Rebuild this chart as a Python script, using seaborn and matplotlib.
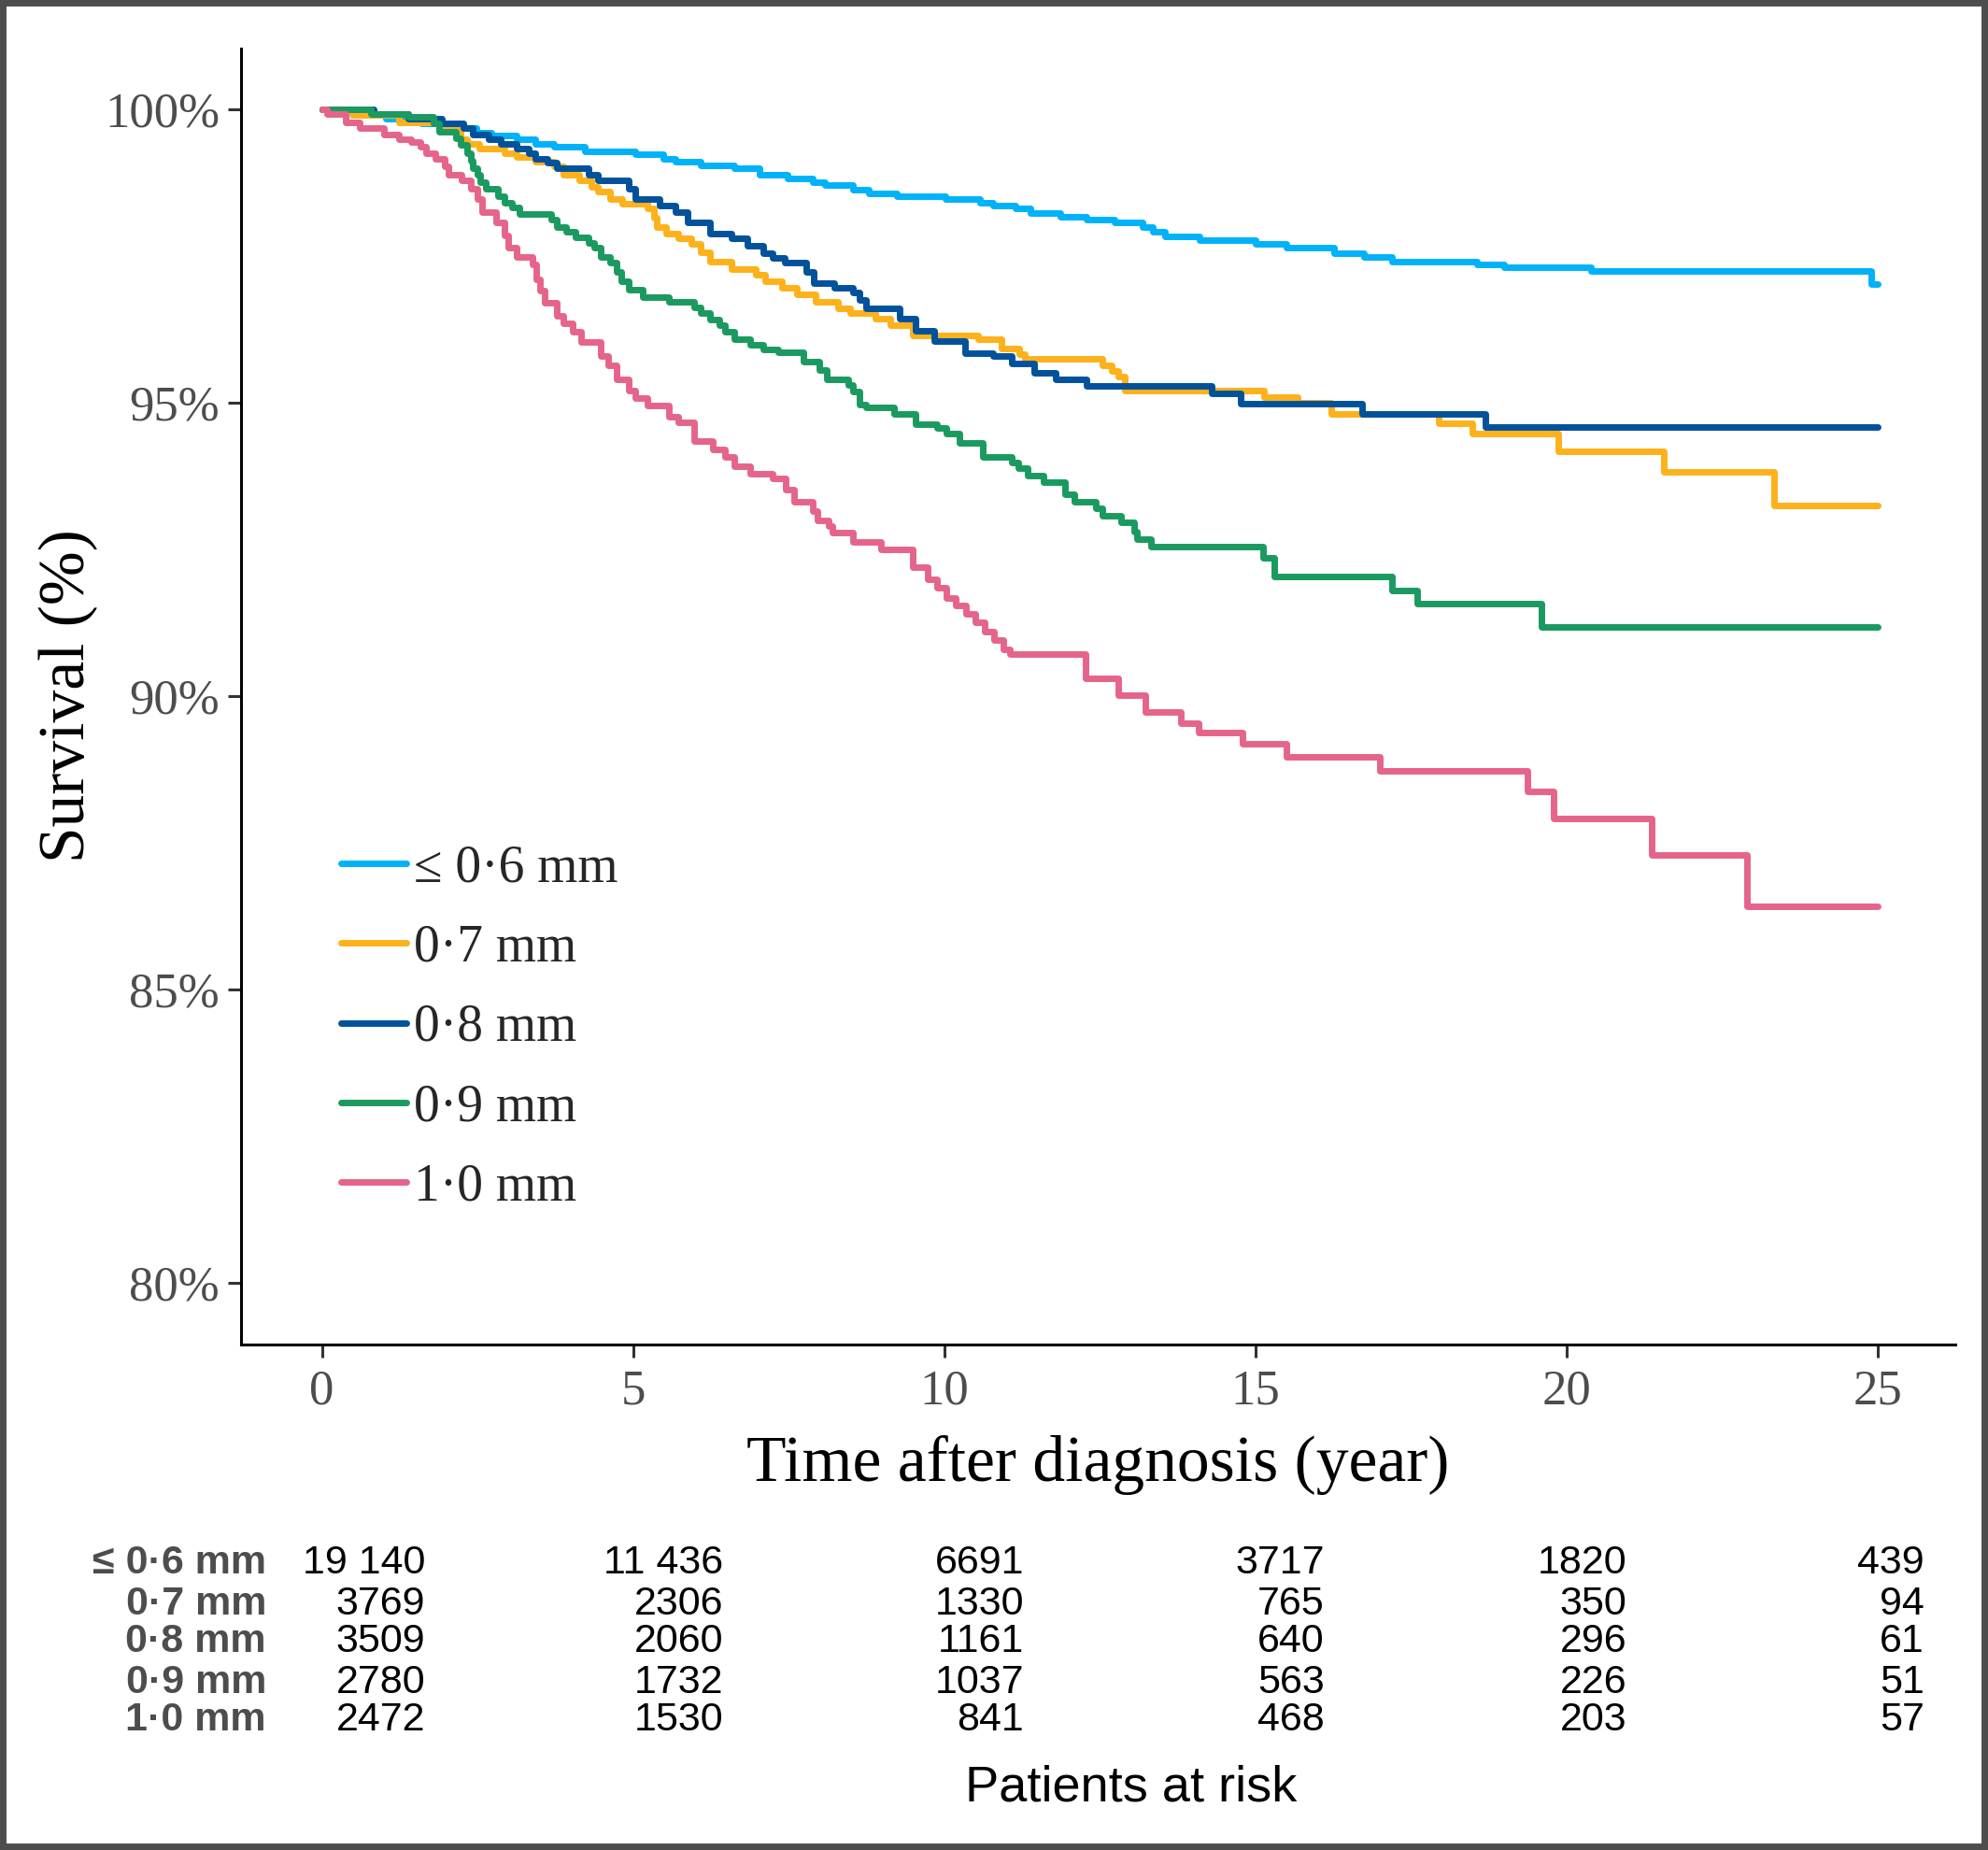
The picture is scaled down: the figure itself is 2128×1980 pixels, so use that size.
import numpy as np
import pandas as pd
import seaborn as sns
import matplotlib.pyplot as plt
from matplotlib.patches import Rectangle

# Canvas (pixels) and layout
W, H = 2128, 1980
DPI = 100
SERIF = ["Liberation Serif", "DejaVu Serif"]
SANS = ["Liberation Sans", "DejaVu Sans"]

# Groups and colours
groups = ["≤ 0·6 mm", "0·7 mm", "0·8 mm", "0·9 mm", "1·0 mm"]
colors = ["#00B2F7", "#FDB11B", "#01529B", "#1B9A60", "#E5658A"]

# Kaplan-Meier steps (time in years, survival in %)
t_06 = [0, 0.5, 1.03, 1.6, 2.0, 2.48, 2.73, 3.13, 3.43, 3.73, 4.23, 5.03, 5.48, 5.68,
        6.08, 6.63, 7.04, 7.49, 7.89, 8.09, 8.54, 8.79, 9.24, 10.02, 10.57, 10.79,
        11.14, 11.39, 11.87, 12.29, 12.74, 13.19, 13.35, 13.55, 14.1, 15.0, 15.5,
        16.27, 16.75, 17.2, 18.57, 19.0, 20.4, 24.9, 25.0]
s_06 = [100, 99.92, 99.84, 99.76, 99.68, 99.6, 99.55, 99.49, 99.41, 99.36, 99.28, 99.23,
        99.15, 99.1, 99.04, 98.99, 98.88, 98.81, 98.75, 98.7, 98.62, 98.57, 98.51, 98.46,
        98.41, 98.36, 98.3, 98.23, 98.17, 98.12, 98.07, 97.99, 97.91, 97.83, 97.77, 97.7,
        97.64, 97.54, 97.48, 97.4, 97.36, 97.3, 97.24, 97.02, 97.02]

t_07 = [0, 0.48, 1.23, 1.93, 2.23, 2.33, 2.53, 2.93, 3.13, 3.43, 3.73, 3.88, 4.13, 4.33,
        4.43, 4.63, 4.83, 5.23, 5.33, 5.38, 5.53, 5.73, 5.93, 6.08, 6.23, 6.58, 6.98, 7.13,
        7.39, 7.64, 7.94, 8.29, 8.49, 8.89, 9.14, 9.49, 10.54, 10.92, 11.2, 11.3, 12.55,
        12.7, 12.8, 12.9, 15.14, 15.68, 16.22, 17.95, 18.49, 19.87, 21.57, 23.33, 25.0]
s_07 = [100, 99.9, 99.78, 99.65, 99.49, 99.41, 99.33, 99.25, 99.18, 99.1, 99.02, 98.88,
        98.78, 98.68, 98.59, 98.46, 98.38, 98.3, 98.15, 97.99, 97.88, 97.8, 97.7, 97.56,
        97.4, 97.27, 97.17, 97.06, 96.96, 96.85, 96.72, 96.61, 96.53, 96.43, 96.32, 96.15,
        96.08, 95.92, 95.82, 95.74, 95.63, 95.54, 95.44, 95.21, 95.1, 94.99, 94.81, 94.65,
        94.47, 94.17, 93.82, 93.24, 93.24]

t_08 = [0, 0.83, 1.38, 1.93, 2.28, 2.43, 2.68, 2.88, 3.13, 3.33, 3.43, 3.63, 3.78, 4.28,
        4.43, 4.93, 5.03, 5.43, 5.68, 5.88, 6.23, 6.58, 6.83, 7.09, 7.24, 7.44, 7.79, 7.91,
        8.24, 8.54, 8.64, 8.74, 9.29, 9.54, 9.84, 10.34, 10.79, 11.09, 11.44, 11.79, 12.29,
        14.3, 14.76, 16.72, 18.7, 25.0]
s_08 = [100, 99.92, 99.84, 99.76, 99.67, 99.57, 99.49, 99.41, 99.33, 99.25, 99.15, 99.08,
        98.99, 98.88, 98.78, 98.65, 98.46, 98.36, 98.25, 98.07, 97.88, 97.8, 97.67, 97.54,
        97.47, 97.38, 97.22, 97.03, 96.95, 96.88, 96.75, 96.6, 96.43, 96.22, 96.04, 95.84,
        95.79, 95.67, 95.5, 95.4, 95.28, 95.15, 94.98, 94.81, 94.59, 94.59]

t_09 = [0, 0.78, 1.38, 1.8, 1.88, 2.15, 2.23, 2.33, 2.4, 2.43, 2.5, 2.55, 2.63, 2.83, 2.93,
        3.05, 3.18, 3.68, 3.78, 3.93, 4.08, 4.28, 4.38, 4.48, 4.63, 4.73, 4.81, 4.93, 5.16,
        5.58, 5.98, 6.08, 6.23, 6.38, 6.48, 6.63, 6.88, 7.09, 7.34, 7.74, 7.99, 8.11, 8.46,
        8.54, 8.64, 8.74, 9.19, 9.54, 9.89, 10.04, 10.24, 10.62, 11.09, 11.19, 11.34, 11.59,
        11.94, 12.09, 12.44, 12.54, 12.84, 13.05, 13.1, 13.32, 15.13, 15.3, 17.19, 17.6,
        19.6, 25.0]
s_09 = [100, 99.92, 99.87, 99.75, 99.62, 99.5, 99.39, 99.25, 99.12, 99.0, 98.88, 98.75,
        98.65, 98.52, 98.41, 98.33, 98.22, 98.12, 97.99, 97.91, 97.81, 97.72, 97.64, 97.48,
        97.38, 97.22, 97.06, 96.93, 96.8, 96.72, 96.62, 96.53, 96.42, 96.32, 96.21, 96.08,
        95.98, 95.9, 95.85, 95.69, 95.55, 95.4, 95.3, 95.18, 94.97, 94.92, 94.81, 94.63,
        94.56, 94.47, 94.31, 94.07, 93.97, 93.89, 93.76, 93.65, 93.44, 93.31, 93.2, 93.07,
        92.96, 92.8, 92.67, 92.54, 92.36, 92.04, 91.8, 91.57, 91.17, 91.17]

t_10 = [0, 0.08, 0.38, 0.6, 1.0, 1.23, 1.43, 1.58, 1.68, 1.83, 1.98, 2.03, 2.25, 2.4, 2.5,
        2.58, 2.8, 2.93, 3.0, 3.13, 3.38, 3.45, 3.5, 3.58, 3.78, 3.88, 4.03, 4.16, 4.48, 4.6,
        4.73, 4.93, 5.03, 5.23, 5.58, 5.73, 5.98, 6.28, 6.48, 6.63, 6.88, 7.24, 7.46, 7.59,
        7.89, 7.96, 8.14, 8.21, 8.54, 8.99, 9.49, 9.5, 9.74, 9.89, 10.04, 10.19, 10.35,
        10.5, 10.65, 10.8, 10.95, 11.05, 12.27, 12.8, 13.24, 13.8, 14.09, 14.8, 15.5, 17.0,
        19.37, 19.8, 21.37, 22.9, 25.0]
s_10 = [100, 99.92, 99.78, 99.68, 99.56, 99.49, 99.44, 99.36, 99.25, 99.15, 99.02, 98.88,
        98.78, 98.65, 98.46, 98.25, 98.07, 97.85, 97.64, 97.48, 97.35, 97.1, 96.9, 96.7,
        96.48, 96.35, 96.21, 96.03, 95.8, 95.63, 95.39, 95.2, 95.08, 94.95, 94.76, 94.66,
        94.34, 94.2, 94.07, 93.92, 93.78, 93.7, 93.52, 93.31, 93.15, 92.99, 92.9, 92.78,
        92.62, 92.49, 92.35, 92.2, 91.98, 91.85, 91.67, 91.55, 91.4, 91.25, 91.1, 90.95,
        90.8, 90.71, 90.3, 90.02, 89.72, 89.53, 89.37, 89.19, 88.96, 88.72, 88.37, 87.91,
        87.29, 86.42, 86.42]

# Patients at risk table
risk_times = [0, 5, 10, 15, 20, 25]
risk_06 = [19140, 11436, 6691, 3717, 1820, 439]
risk_07 = [3769, 2306, 1330, 765, 350, 94]
risk_08 = [3509, 2060, 1161, 640, 296, 61]
risk_09 = [2780, 1732, 1037, 563, 226, 51]
risk_10 = [2472, 1530, 841, 468, 203, 57]

curves = [(t_06, s_06), (t_07, s_07), (t_08, s_08), (t_09, s_09), (t_10, s_10)]
risk_rows = [risk_06, risk_07, risk_08, risk_09, risk_10]

frames = []
for g, (t, s) in zip(groups, curves):
    frames.append(pd.DataFrame({"time": t, "surv": s, "group": g}))
df = pd.concat(frames, ignore_index=True)


def px_x(x):
    return x / W


def px_y(y):
    return 1 - y / H


def fmt_risk(n):
    # thousands separated by a space for five-digit numbers
    if n >= 10000:
        return f"{n:,}".replace(",", " ")
    return str(n)


sns.set_style("ticks")
plt.rcParams["font.family"] = SERIF

LW = 5.0

fig = plt.figure(figsize=(W / DPI, H / DPI), dpi=DPI)
ax = fig.add_axes([px_x(258), px_y(1439), (2093 - 258) / W, (1439 - 52) / H])

sns.lineplot(
    data=df, x="time", y="surv", hue="group", hue_order=groups,
    palette=dict(zip(groups, colors)), estimator=None, sort=False,
    drawstyle="steps-post", linewidth=LW, ax=ax,
)

ax.set_xlim(-1.3, 26.25)
ax.set_ylim(78.95, 101.03)
ax.set_xticks(risk_times)
ax.set_yticks([80, 85, 90, 95, 100])
ax.set_yticklabels([f"{v}%" for v in [80, 85, 90, 95, 100]])

sns.despine(ax=ax)
for side in ["left", "bottom"]:
    ax.spines[side].set_linewidth(2.2)
    ax.spines[side].set_color("black")
ax.tick_params(axis="both", length=10, width=2.2, color="#333333",
               labelcolor="#4D4D4D", labelsize=38)
ax.tick_params(axis="x", pad=9)
ax.tick_params(axis="y", pad=6.5)
for lab in ax.get_xticklabels() + ax.get_yticklabels():
    lab.set_family(SERIF)

ax.set_xlabel("Time after diagnosis (year)", fontsize=50, color="black")
ax.set_ylabel("Survival (%)", fontsize=50, color="black")
ax.xaxis.label.set_va("baseline")
ax.xaxis.set_label_coords(0.5, (1439 - 1585) / (1439 - 52))
ax.yaxis.label.set_rotation_mode("anchor")
ax.yaxis.label.set_va("baseline")
ax.yaxis.label.set_ha("center")
ax.yaxis.set_label_coords((90 - 258) / (2093 - 258), (1439 - 745) / (1439 - 52))

# legend inside the plot, no frame, no title
old = ax.get_legend()
handles = old.legend_handles
labels = [t.get_text() for t in old.get_texts()]
for h in handles:
    h.set_linewidth(LW)
ax.legend(handles, labels, loc="center left",
          bbox_to_anchor=((365 - 258) / (2093 - 258), (1439 - 1100) / (1439 - 52)),
          frameon=False, handlelength=1.26, handletextpad=0.15,
          labelspacing=0.6, borderpad=0, borderaxespad=0,
          prop={"family": SERIF, "size": 40})

# patients at risk table
row_base = [1684, 1728, 1768, 1812, 1852]
col_right = [455, 774, 1096, 1418, 1741, 2060]
for g, row, yb in zip(groups, risk_rows, row_base):
    fig.text(px_x(285), px_y(yb), g, ha="right", va="baseline", fontsize=31,
             fontweight="bold", color="#4D4D4D", family=SANS)
    for n, xr in zip(row, col_right):
        fig.text(px_x(xr), px_y(yb), fmt_risk(n), ha="right", va="baseline",
                 fontsize=31, color="black", family=SANS)
fig.text(px_x(1211), px_y(1928), "Patients at risk", ha="center", va="baseline",
         fontsize=39, color="black", family=SANS)

# dark frame round the whole picture
fig.add_artist(Rectangle((0, 0), 1, 1, transform=fig.transFigure, fill=False,
                         edgecolor="#4D4D4D", linewidth=10))

fig.savefig("out.png", dpi=DPI, facecolor="white")
